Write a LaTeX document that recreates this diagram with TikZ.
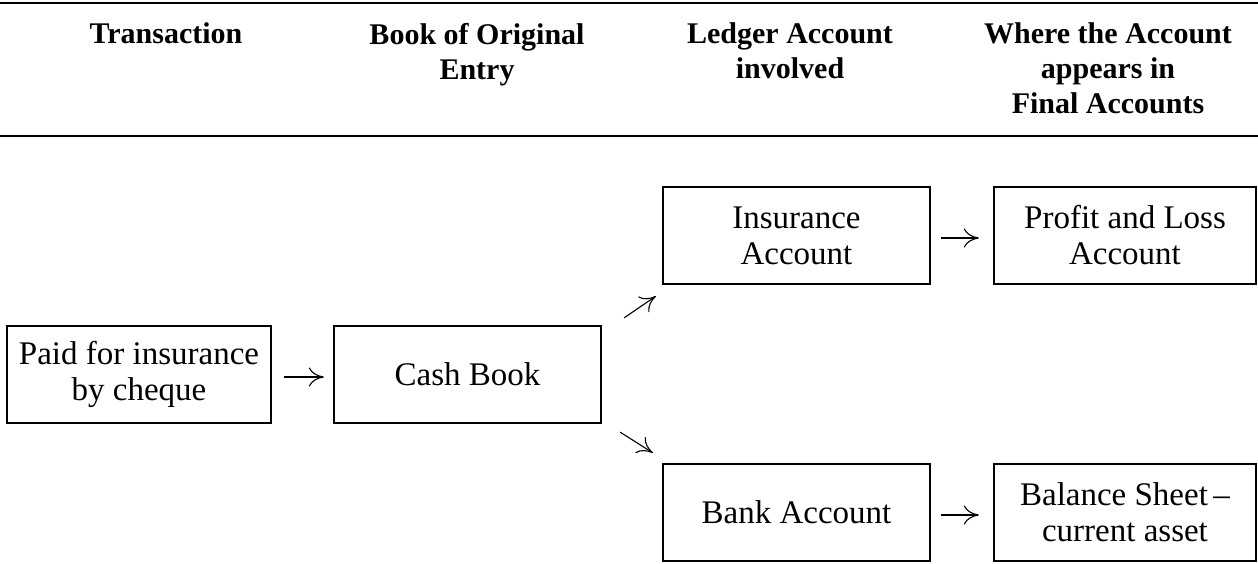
\documentclass[tikz,border=0pt]{standalone}
\usepackage{fontspec}
\setmainfont{Liberation Serif}
\usetikzlibrary{arrows.meta,calc}
\begin{document}
\begin{tikzpicture}[x=0.5pt,y=-0.5pt,
  head/.style={font=\fontsize{15}{17.5}\selectfont\bfseries, align=center, inner sep=0pt, anchor=north},
  box/.style={draw, line width=1.2pt, align=center, inner sep=0pt,
    minimum height=48.5pt, font=\fontsize{16.5}{18}\selectfont},
  arr/.style={line width=0.55pt, -{Computer Modern Rightarrow[length=7.5pt,width=9.5pt]}},
  rulel/.style={line width=1.2pt}]
\useasboundingbox (0,0) rectangle (1258,563);
\draw[rulel] (0,3) -- (1258,3);
\draw[rulel] (0,136) -- (1258,136);
\node[head] (h1) at (166,22.5) {Transaction};
\node[head] (h2) at (477,22.5) {Book of Original\\Entry};
\node[head] (h3) at (790,22.5) {Ledger Account\\involved};
\node[head] (h4) at (1108,22.5) {Where the Account\\appears in\\Final Accounts};
\node[box, minimum width=132pt] (tr) at (139,374.5) {Paid for insurance\\by cheque};
\node[box, minimum width=133.5pt] (cash) at (467.5,374.5) {Cash Book};
\node[box, minimum width=133.5pt] (ins) at (796.5,235.5) {Insurance\\Account};
\node[box, minimum width=131pt] (pl) at (1125,235.5) {Profit and Loss\\Account};
\node[box, minimum width=133.5pt] (bank) at (796.5,512.5) {Bank Account};
\node[box, minimum width=131pt] (bs) at (1125,512.5) {Balance Sheet\,--\\current asset};
\draw[arr] ($(tr.east)+(12,2.5)$) -- ($(cash.west)+(-9,2.5)$);
\draw[arr] ($(ins.east)+(10,2.5)$) -- ($(pl.west)+(-14,2.5)$);
\draw[arr] ($(bank.east)+(10,2.5)$) -- ($(bs.west)+(-14,2.5)$);
\draw[arr] ($(cash.north east)+(22,-7)$) -- ($(ins.south west)+(-6,11)$);
\draw[arr] ($(cash.south east)+(18,8)$) -- ($(bank.north west)+(-9,-10)$);
\end{tikzpicture}
\end{document}
